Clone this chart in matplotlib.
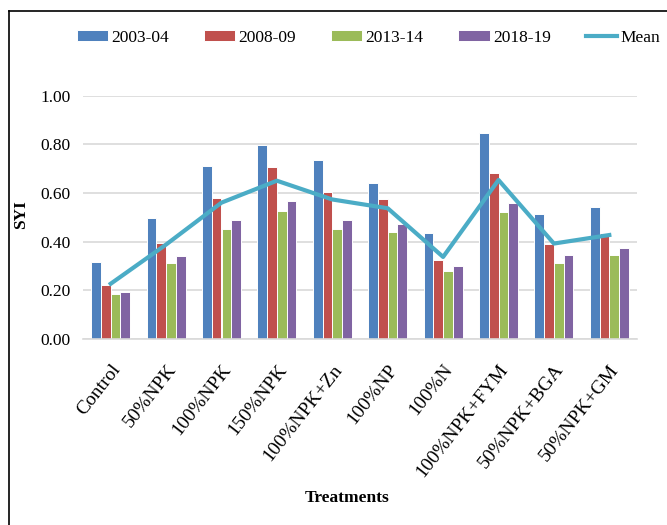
import numpy as np
import matplotlib
matplotlib.use('Agg')
import matplotlib.pyplot as plt
from matplotlib.lines import Line2D

# SYI by treatment for four periods, plus the mean across periods
treatments = ["Control", "50%NPK", "100%NPK", "150%NPK", "100%NPK+Zn",
              "100%NP", "100%N", "100%NPK+FYM", "50%NPK+BGA", "50%NPK+GM"]
years = ["2003-04", "2008-09", "2013-14", "2018-19"]
syi_2003 = [0.315, 0.496, 0.709, 0.795, 0.734, 0.639, 0.434, 0.847, 0.513, 0.543]
syi_2008 = [0.223, 0.396, 0.578, 0.705, 0.605, 0.574, 0.323, 0.683, 0.392, 0.434]
syi_2013 = [0.186, 0.313, 0.452, 0.527, 0.452, 0.440, 0.279, 0.523, 0.313, 0.344]
syi_2018 = [0.193, 0.340, 0.487, 0.565, 0.487, 0.474, 0.301, 0.557, 0.344, 0.375]
syi_mean = [0.227, 0.388, 0.560, 0.650, 0.573, 0.537, 0.337, 0.653, 0.392, 0.427]
yticks = [0.0, 0.2, 0.4, 0.6, 0.8, 1.0]

colors = ['#4F81BD', '#C0504D', '#9BBB59', '#8064A2']
mean_color = '#4BACC6'

plt.rcParams['font.family'] = ['Liberation Serif', 'DejaVu Serif']

fig = plt.figure(figsize=(6.67, 5.25), dpi=100)
ax = fig.add_axes([83 / 667, 1 - 339 / 525, 554 / 667, 243.5 / 525])

x = np.arange(len(treatments))
w = 0.176
series = [syi_2003, syi_2008, syi_2013, syi_2018]
handles = []
for i, (vals, lab) in enumerate(zip(series, years)):
    b = ax.bar(x + (i - 1.5) * w, vals, width=w, color=colors[i],
               edgecolor='white', linewidth=0.7, label=lab, zorder=2)
    handles.append(b)
line, = ax.plot(x, syi_mean, color=mean_color, linewidth=3, label='Mean', zorder=3)
handles.append(line)

ax.set_xlim(-0.5, len(treatments) - 0.5)
ax.set_ylim(0, 1.0)
ax.set_yticks(yticks)
ax.set_yticklabels([f"{v:.2f}" for v in yticks], fontsize=12.5)
ax.yaxis.grid(True, color='#d9d9d9', linewidth=1.2, zorder=0)
ax.set_axisbelow(True)
for s in ['top', 'right', 'left']:
    ax.spines[s].set_visible(False)
ax.spines['bottom'].set_color('#d9d9d9')
ax.spines['bottom'].set_linewidth(1.2)
ax.tick_params(axis='both', length=0)
ax.tick_params(axis='y', pad=9)
ax.tick_params(axis='x', pad=16)

ax.set_xticks(x)
ax.set_xticklabels(treatments, fontsize=14, rotation=52,
                   ha='right', va='top', rotation_mode='anchor')

fig.text(347 / 667, 1 - 498 / 525, "Treatments", fontsize=12.5,
         fontweight='bold', ha='center', va='center')
fig.text(21.5 / 667, 1 - 215 / 525, "SYI", fontsize=12.5, fontweight='bold',
         rotation=90, ha='center', va='center')

fig.legend(handles, years + ['Mean'], loc='center left', ncol=5,
           bbox_to_anchor=(68 / 667, 1 - 38 / 525), frameon=False,
           fontsize=12.5, handlelength=1.8, handleheight=0.6,
           handletextpad=0.2, columnspacing=2.0, borderpad=0)

# outer frame: top and left edges only
fig.add_artist(Line2D([9 / 667, 9 / 667], [0, 1 - 11 / 525],
                      transform=fig.transFigure, color='black', linewidth=1.2))
fig.add_artist(Line2D([9 / 667, 1], [1 - 11 / 525, 1 - 11 / 525],
                      transform=fig.transFigure, color='black', linewidth=1.2))

fig.savefig("out.png", dpi=100)
